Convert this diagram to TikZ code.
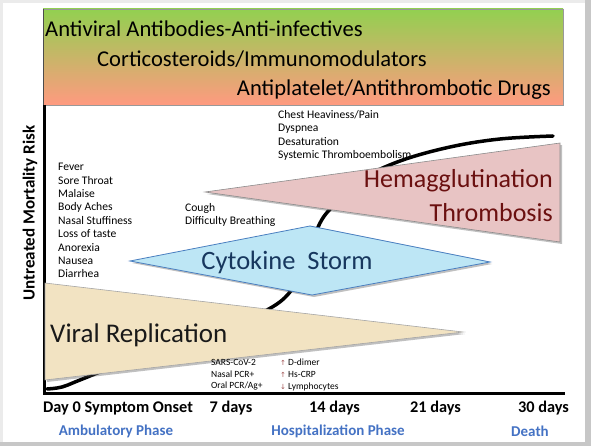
\documentclass[tikz,border=0pt]{standalone}
\usepackage{fontspec}
\setmainfont{Carlito}
\newfontfamily\symfont{DejaVu Sans}
\usetikzlibrary{shadows}
\definecolor{boxgreen}{HTML}{92D050}
\definecolor{boxmid}{HTML}{CDB46C}
\definecolor{boxsalmon}{HTML}{FF9A80}
\definecolor{viralfill}{HTML}{F2E3C2}
\definecolor{hemafill}{HTML}{E8C4C4}
\definecolor{hematext}{HTML}{6B1010}
\definecolor{cytofill}{HTML}{BDE6F5}
\definecolor{cytoedge}{HTML}{4A7FC0}
\definecolor{cytotext}{HTML}{17375E}
\definecolor{phaseblue}{HTML}{4472C4}
\definecolor{arrowred}{HTML}{A05050}
\tikzset{
  boxtext/.style={font=\fontsize{22.6}{24}\selectfont, inner sep=0pt},
  smalltext/.style={font=\fontsize{11.6}{13.4}\selectfont, align=left, inner sep=0pt, anchor=north west},
  labtext/.style={font=\fontsize{9.5}{11.7}\selectfont, align=left, inner sep=0pt, anchor=north west},
  axislabel/.style={font=\bfseries\fontsize{16.3}{18}\selectfont, inner sep=0pt},
  phaselabel/.style={font=\bfseries\fontsize{15}{16}\selectfont, text=phaseblue, inner sep=0pt},
  shapeshadow/.style={drop shadow={shadow xshift=2pt, shadow yshift=-2pt, opacity=0.35, fill=black!70}},
}
\begin{document}
\begin{tikzpicture}[x=1pt,y=-1pt]
\useasboundingbox (0,0) rectangle (591,446);
% slide background
\fill[black!22] (0,0) rectangle (591,446);
\fill[black!8] (0,0) rectangle (585,442);
\fill[white] (3,3) rectangle (585,442);
% top treatment box
\shade[top color=boxgreen, middle color=boxmid, bottom color=boxsalmon] (43,9) rectangle (563,105);
\draw[black!40, line width=0.8pt] (43,9) rectangle (563,105);
\draw[black!70, line width=1.5pt] (43.5,9.5) -- (43.5,105);
\node[boxtext, anchor=west] (t1) at (45,29) {Antiviral Antibodies-Anti-infectives};
\node[boxtext, anchor=west] (t2) at (97,59) {Corticosteroids/Immunomodulators};
\node[boxtext, anchor=east] (t3) at (551,90) {Antiplatelet/Antithrombotic Drugs};
% axes
\draw[black, line width=3pt] (44.5,105) -- (44.5,393.5) -- (565,393.5);
\node[font=\bfseries\fontsize{17}{19}\selectfont, rotate=90, inner sep=0pt] (ylab) at (30,213) {Untreated Mortality Risk};
% sigmoid curve
\draw[black, line width=3.5pt, line cap=round] plot[smooth, tension=0.6] coordinates {
  (47,389) (62,387) (80,380) (150,352) (220,328) (265,311) (290,292) (305,262)
  (320,223) (336,203) (360,180) (400,161) (450,147) (500,139) (553,136)};
% hemagglutination triangle
\filldraw[fill=hemafill, draw=black!45, line width=0.6pt, shapeshadow] (205,192) -- (560,143) -- (560,242) -- cycle;
\node[font=\fontsize{26}{28}\selectfont, text=hematext, anchor=east, inner sep=0pt] (hema1) at (553,181) {Hemagglutination};
\node[font=\fontsize{26}{28}\selectfont, text=hematext, anchor=east, inner sep=0pt] (hema2) at (553,213) {Thrombosis};
% cytokine storm diamond
\filldraw[fill=cytofill, draw=cytoedge, line width=0.8pt, shapeshadow] (130,261) -- (310,226) -- (490,262) -- (312,295) -- cycle;
\node[font=\fontsize{26.5}{28}\selectfont, text=cytotext, inner sep=0pt] (cyto) at (287,262) {Cytokine\ \ Storm};
% viral replication triangle
\filldraw[fill=viralfill, draw=black!35, line width=0.6pt, shapeshadow] (45,283) -- (463,332) -- (45,380) -- cycle;
\node[font=\fontsize{27}{29}\selectfont, text=black!90, anchor=west, inner sep=0pt] (viral) at (50,335) {Viral Replication};
% symptom lists
\node[smalltext] (sym1) at (58,163) {Fever\\Sore Throat\\Malaise\\Body Aches\\Nasal Stuffiness\\Loss of taste\\Anorexia\\Nausea\\Diarrhea};
\node[smalltext] (sym2) at (185,203) {Cough\\Difficulty Breathing};
\node[smalltext] (sym3) at (278,110) {Chest Heaviness/Pain\\Dyspnea\\Desaturation\\Systemic Thromboembolism};
% lab findings
\node[labtext] (lab1) at (211,359) {SARS-CoV-2\\Nasal PCR+\\Oral PCR/Ag+};
\node[labtext] (lab2) at (280,359) {{\symfont\fontsize{7}{11.7}\selectfont\textcolor{arrowred}{↑}} D-dimer\\{\symfont\fontsize{7}{11.7}\selectfont\textcolor{arrowred}{↑}} Hs-CRP\\{\symfont\fontsize{7}{11.7}\selectfont\textcolor{arrowred}{↓}} Lymphocytes};
% x-axis labels
\node[axislabel, anchor=west] (d0) at (43,408) {Day 0 Symptom Onset};
\node[axislabel] (d7) at (231,408) {7 days};
\node[axislabel] (d14) at (334.5,408) {14 days};
\node[axislabel] (d21) at (435.5,408) {21 days};
\node[axislabel] (d30) at (543.5,408) {30 days};
% phase labels
\node[phaselabel] (p1) at (116,431) {Ambulatory Phase};
\node[phaselabel] (p2) at (338,431) {Hospitalization Phase};
\node[phaselabel] (p3) at (530,431) {Death};
\end{tikzpicture}
\end{document}
